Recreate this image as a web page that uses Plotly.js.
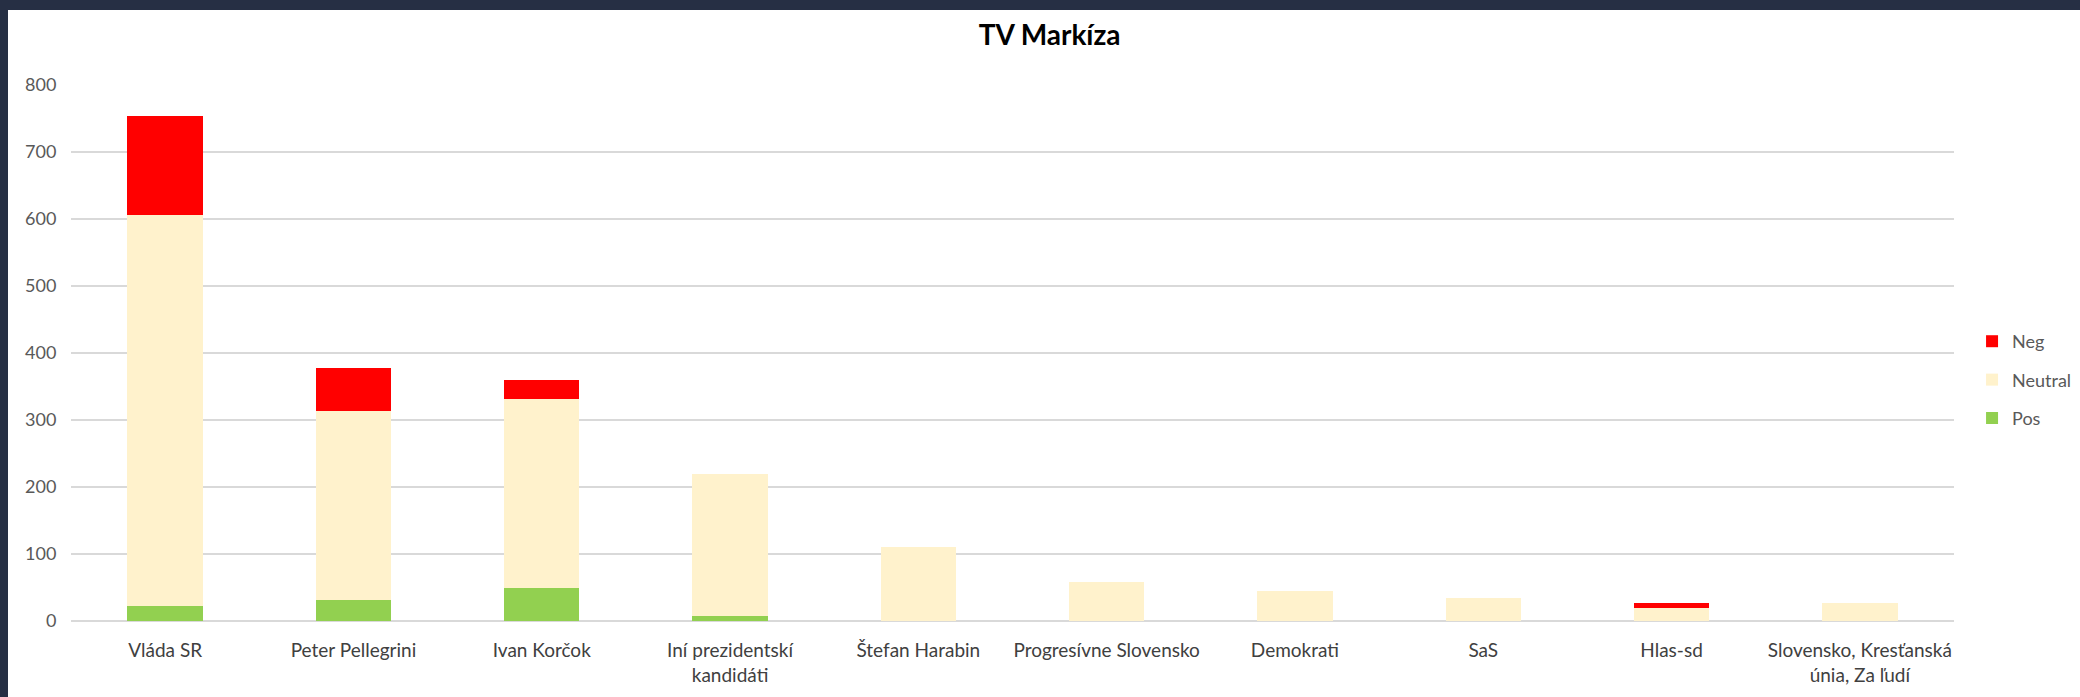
<!DOCTYPE html>
<html>
<head>
<meta charset="utf-8">
<script src="https://cdn.plot.ly/plotly-3.0.1.min.js"></script>
<style>
  html, body { margin: 0; padding: 0; background: #262f44; width: 2080px; height: 697px; overflow: hidden; }
  #chart { position: absolute; left: 8px; top: 10px; width: 2072px; height: 687px; background: #ffffff; }
</style>
</head>
<body>
<div id="chart"></div>
<script>
const categories = [
  "Vláda SR",
  "Peter Pellegrini",
  "Ivan Korčok",
  "Iní prezidentskí<br>kandidáti",
  "Štefan Harabin",
  "Progresívne Slovensko",
  "Demokrati",
  "SaS",
  "Hlas-sd",
  "Slovensko, Kresťanská<br>únia, Za ľudí"
];
const posValues     = [23, 32, 50, 7, 0, 0, 0, 0, 0, 0];
const neutralValues = [583, 282, 282, 212, 110, 58, 45, 34, 20, 27];
const negValues     = [147, 64, 27, 0, 0, 0, 0, 0, 7, 0];
const yTicks = [0, 100, 200, 300, 400, 500, 600, 700, 800];

const traces = [
  { type: 'bar', name: 'Pos', x: categories, y: posValues, marker: { color: '#92d050' }, legendgroup: 'pos', legendrank: 3, hoverinfo: 'y+name' },
  { type: 'bar', name: 'Neutral', x: categories, y: neutralValues, marker: { color: '#fff2cc' }, legendgroup: 'neu', legendrank: 2, hoverinfo: 'y+name' },
  { type: 'bar', name: 'Neg', x: categories, y: negValues, marker: { color: '#ff0000' }, legendgroup: 'neg', legendrank: 1, hoverinfo: 'y+name' }
];

const layout = {
  width: 2072,
  height: 687,
  paper_bgcolor: '#ffffff',
  plot_bgcolor: '#ffffff',
  barmode: 'stack',
  bargap: 0.6,
  margin: { l: 63, r: 126, t: 75, b: 76 },
  font: { family: 'Lato, "Open Sans", sans-serif', color: '#595959' },
  title: {
    text: '<b>TV Markíza</b>',
    font: { family: 'Lato, sans-serif', size: 28, color: '#000000' },
    x: 0.5027, xref: 'container', xanchor: 'center',
    y: 0.963, yref: 'container', yanchor: 'middle'
  },
  xaxis: {
    type: 'category',
    showgrid: false,
    showline: false,
    ticks: 'outside',
    ticklen: 12,
    tickcolor: 'rgba(0,0,0,0)',
    tickfont: { size: 19, color: '#404040', family: 'Lato, sans-serif' },
    tickangle: 0
  },
  yaxis: {
    range: [0, 800],
    tickvals: yTicks,
    ticktext: yTicks.map(String),
    showgrid: true,
    gridcolor: '#d9d9d9',
    gridwidth: 1.3,
    zeroline: true,
    zerolinecolor: '#d9d9d9',
    zerolinewidth: 1.3,
    showline: false,
    ticks: 'outside',
    ticklen: 10,
    tickcolor: 'rgba(0,0,0,0)',
    tickfont: { size: 18, color: '#595959', family: 'Lato, sans-serif' },
    fixedrange: true
  },
  showlegend: true,
  legend: {
    xref: 'container', yref: 'container',
    x: 0.9479, xanchor: 'left',
    y: 0.4614, yanchor: 'middle',
    traceorder: 'grouped',
    tracegroupgap: 12,
    font: { size: 18, color: '#595959', family: 'Lato, sans-serif' },
    bgcolor: 'rgba(0,0,0,0)'
  }
};

Plotly.newPlot('chart', traces, layout, { displayModeBar: false, staticPlot: true });
</script>
</body>
</html>
